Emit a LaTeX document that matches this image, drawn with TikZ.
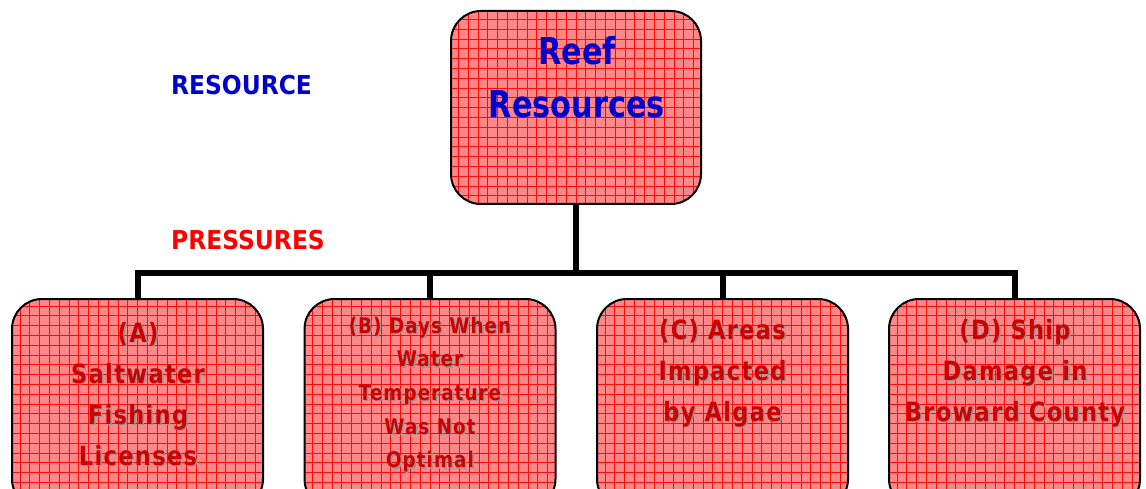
\documentclass[tikz,border=0pt]{standalone}
\usepackage{fontspec}
\setmainfont{DejaVu Sans}
\newfontfamily\spaced[LetterSpace=5,FakeStretch=0.85]{DejaVu Sans}
\newfontfamily\narrow[FakeStretch=0.82]{DejaVu Sans}
\newfontfamily\labfont[FakeStretch=0.9]{DejaVu Sans}
\definecolor{boxfill}{RGB}{255,135,135}
\definecolor{gridred}{RGB}{255,10,10}
\definecolor{darkred}{RGB}{204,0,0}
\definecolor{topblue}{RGB}{0,0,204}
\definecolor{shadowgray}{RGB}{150,150,150}
\tikzset{
  hbox/.style={draw=black, line width=2pt, rounded corners=30pt, fill=boxfill,
    minimum width=250pt, inner sep=0pt,
    path picture={\draw[gridred, line width=0.7pt, step=9.8pt]
      (path picture bounding box.south west) grid (path picture bounding box.north east);}},
  conn/.style={line width=6pt, black},
  lowtext/.style={align=center, text=darkred, inner sep=0pt},
  lowshadow/.style={align=center, text=shadowgray, inner sep=0pt},
  label/.style={font=\labfont\bfseries\fontsize{26}{30}\selectfont, inner sep=0pt},
  bigfont/.style={font=\spaced\bfseries\fontsize{26.5}{41}\selectfont},
  smallfont/.style={font=\spaced\bfseries\fontsize{21.5}{33.7}\selectfont}
}
\begin{document}
\begin{tikzpicture}[x=1pt, y=-1pt]
\useasboundingbox (0,0) rectangle (1146,489);
\clip (0,0) rectangle (1146,489);
\fill[white] (0,0) rectangle (1146,489);
% boxes
\node[hbox, minimum height=193pt] (top) at (576,107.5) {};
\node[hbox, minimum width=251pt, minimum height=210pt] (A) at (137.5,404) {};
\node[hbox, minimum width=251pt, minimum height=210pt] (B) at (430,404) {};
\node[hbox, minimum width=251pt, minimum height=210pt] (C) at (722.5,404) {};
\node[hbox, minimum width=251pt, minimum height=210pt] (D) at (1014.5,404) {};
% connectors
\coordinate (bar) at (576,273);
\draw[conn] (top.south) -- (bar);
\draw[conn] (A.north) |- (bar) -| (D.north);
\draw[conn] (B.north) -- (B.north |- bar);
\draw[conn] (C.north) -- (C.north |- bar);
% labels
\node[label, text=topblue] (res) at (241.5,85) {RESOURCE};
\node[label, text=red] (pres) at (248,240) {PRESSURES};
% top text
\node[align=center, text=topblue, font=\narrow\bfseries\fontsize{37}{53}\selectfont, inner sep=0pt] (toptx) at (577,77) {Reef\\Resources};
% bottom texts
\node[lowshadow, bigfont] (Atxs) at (139.5,395.5) {(A)\\Saltwater\\Fishing\\Licenses};
\node[lowtext, bigfont] (Atx) at (138,394) {(A)\\Saltwater\\Fishing\\Licenses};
\node[lowshadow, smallfont] (Btxs) at (431.5,396) {(B) Days When\\Water\\Temperature\\Was Not\\Optimal};
\node[lowtext, smallfont] (Btx) at (430,394.5) {(B) Days When\\Water\\Temperature\\Was Not\\Optimal};
\node[lowshadow, bigfont] (Ctxs) at (724,374.5) {(C) Areas\\Impacted\\by Algae};
\node[lowtext, bigfont] (Ctx) at (722.5,373) {(C) Areas\\Impacted\\by Algae};
\node[lowshadow, bigfont] (Dtxs) at (1016.5,374.5) {(D) Ship\\Damage in\\Broward County};
\node[lowtext, bigfont] (Dtx) at (1015,373) {(D) Ship\\Damage in\\Broward County};
\end{tikzpicture}
\end{document}
